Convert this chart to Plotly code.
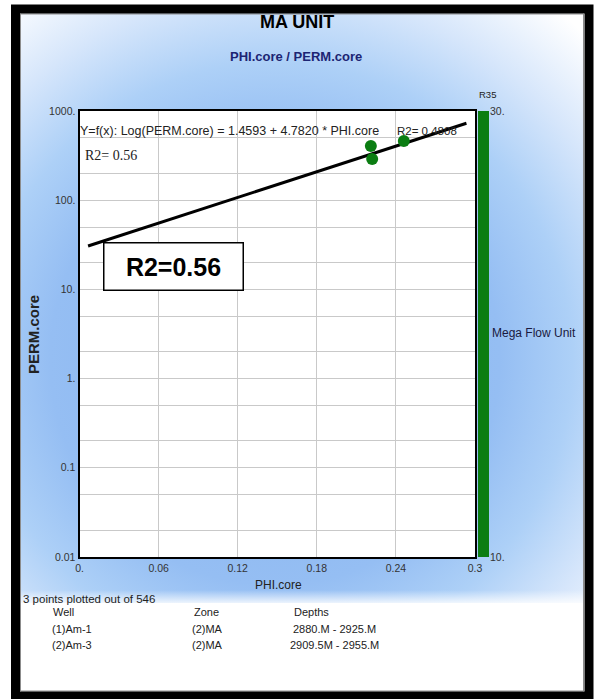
import base64
import plotly.graph_objects as go

W, H = 594, 699

# core points (PHI.core vs PERM.core)
phi_core = [0.221, 0.222, 0.246]
perm_core = [405, 290, 460]

# regression line ends
fit_phi = [0.0065, 0.2935]
fit_perm = [30.7, 729]

y_tickvals = [0.01, 0.02, 0.05, 0.1, 0.2, 0.5, 1, 2, 5, 10, 20, 50, 100, 200, 500, 1000]
y_ticktext = ["0.01", "", "", "0.1", "", "", "1.", "", "", "10.", "", "", "100.", "", "", "1000."]
x_tickvals = [0, 0.06, 0.12, 0.18, 0.24, 0.3]
x_ticktext = ["0.", "0.06", "0.12", "0.18", "0.24", "0.3"]

# R35 flow unit track
unit_names = ["Mega Flow Unit"]
unit_base = [10]
unit_top = [30]
r35_tickvals = [10, 30]
r35_ticktext = ["10.", "30."]

# well table under the chart
wells = ["(1)Am-1", "(2)Am-3"]
zones = ["(2)MA", "(2)MA"]
depths = ["2880.M - 2925.M", "2909.5M - 2955.M"]


def px(x):
    return x / W


def py(y):
    return 1 - y / H


FONT = "Liberation Sans, Arial, sans-serif"

# blue glow behind the chart, white under the well table
svg = """<svg xmlns="http://www.w3.org/2000/svg" width="594" height="699" viewBox="0 0 594 699" preserveAspectRatio="none">
<defs>
<radialGradient id="g" gradientUnits="userSpaceOnUse" cx="275" cy="360" r="450">
<stop offset="0" stop-color="#86b3f0"/>
<stop offset="0.5" stop-color="#95bef3"/>
<stop offset="0.66" stop-color="#add0f7"/>
<stop offset="0.82" stop-color="#d6e6fb"/>
<stop offset="1" stop-color="#ffffff"/>
</radialGradient>
<linearGradient id="f" x1="0" y1="0" x2="0" y2="1">
<stop offset="0" stop-color="#ffffff" stop-opacity="0"/>
<stop offset="1" stop-color="#ffffff" stop-opacity="1"/>
</linearGradient>
</defs>
<rect x="0" y="0" width="594" height="699" fill="#ffffff"/>
<rect x="20" y="13" width="564" height="590" fill="url(#g)"/>
<rect x="20" y="590" width="564" height="16" fill="url(#f)"/>
<rect x="20" y="606" width="564" height="86" fill="#ffffff"/>
</svg>"""
bg_uri = "data:image/svg+xml;base64," + base64.b64encode(svg.encode()).decode()

fig = go.Figure()

fig.add_trace(go.Scatter(
    x=fit_phi, y=fit_perm, mode="lines",
    line=dict(color="black", width=3), hoverinfo="skip",
))
fig.add_trace(go.Scatter(
    x=phi_core, y=perm_core, mode="markers",
    marker=dict(color="#0b7d12", size=12),
))
fig.add_trace(go.Bar(
    x=[0.5] * len(unit_names),
    y=[t - b for t, b in zip(unit_top, unit_base)],
    base=unit_base, width=1, text=unit_names, textposition="none",
    marker=dict(color="#0b7d12", line=dict(width=0)),
    xaxis="x2", yaxis="y2",
))

axis_font = dict(family=FONT, size=10.5, color="#333333")

fig.update_layout(
    width=W, height=H,
    margin=dict(l=0, r=0, t=0, b=0, autoexpand=False),
    paper_bgcolor="white",
    plot_bgcolor="white",
    showlegend=False,
    xaxis=dict(
        domain=[px(79.5), px(475)], range=[0, 0.3], automargin=False,
        tickvals=x_tickvals, ticktext=x_ticktext, tickfont=axis_font,
        showgrid=True, gridcolor="#c9c9c9", gridwidth=1, zeroline=False,
        showline=True, mirror=True, linecolor="black", linewidth=2, ticks="",
    ),
    yaxis=dict(
        type="log", domain=[py(557), py(111)], range=[-2, 3], automargin=False,
        tickvals=y_tickvals, ticktext=y_ticktext, tickfont=axis_font,
        showgrid=True, gridcolor="#c9c9c9", gridwidth=1, zeroline=False,
        showline=True, mirror=True, linecolor="black", linewidth=2, ticks="",
    ),
    xaxis2=dict(domain=[px(478), px(489)], range=[0, 1], visible=False,
                anchor="y2", automargin=False),
    yaxis2=dict(
        domain=[py(557), py(111)], range=[10, 30], anchor="x2", side="right",
        automargin=False,
        tickvals=r35_tickvals, ticktext=r35_ticktext, tickfont=axis_font,
        showgrid=False, zeroline=False, showline=False, ticks="",
    ),
    images=[dict(
        source=bg_uri, xref="paper", yref="paper", x=0, y=1, sizex=1, sizey=1,
        xanchor="left", yanchor="top", sizing="stretch", layer="below",
    )],
    shapes=[
        dict(type="rect", xref="x domain", yref="y domain", x0=0, x1=1, y0=0, y1=1,
             fillcolor="white", line=dict(width=0), layer="below"),
        dict(type="rect", xref="paper", yref="paper",
             x0=px(20.5), x1=px(583.5), y0=py(691), y1=py(14),
             line=dict(color="#8c8c8c", width=1)),
        dict(type="rect", xref="paper", yref="paper",
             x0=px(15.5), x1=px(589), y0=py(696), y1=py(9),
             line=dict(color="black", width=9)),
    ],
)


def note(text, x, y, size=10, color="#222222", anchor="left", family=FONT, **kw):
    fig.add_annotation(
        text=text, x=px(x), y=py(y), xref="paper", yref="paper",
        xanchor=anchor, yanchor="middle", showarrow=False,
        font=dict(family=family, size=size, color=color), **kw,
    )


note("<b>MA UNIT</b>", 297, 22, size=18, color="black", anchor="center")
note("<b>PHI.core / PERM.core</b>", 296, 57, size=13, color="#1c2573", anchor="center")
note("R35", 477, 95, size=9.5)
note(unit_names[0], 490, 333, size=12, color="#1a1a40")
note("Y=f(x): Log(PERM.core) = 1.4593 + 4.7820 * PHI.core", 78, 131, size=12.5)
note("R2= 0.4808", 395, 131, size=11.5)
note("R2= 0.56", 83, 155, size=14, family="Liberation Serif, Times New Roman, serif")
note("<b>R2=0.56</b>", 173, 267, size=25, color="black", anchor="center",
     bgcolor="white", bordercolor="black", borderwidth=1.5, width=136, height=44)
note("<b>PERM.core</b>", 33, 335, size=15, color="#222222", anchor="center", textangle=-90)
note("PHI.core", 278, 585, size=12, anchor="center")

note("3 points plotted out of 546", 21, 599, size=11.5)
note("Well", 51, 612, size=11)
note("Zone", 192, 612, size=11)
note("Depths", 292, 612, size=11)
for i, (w, z, d) in enumerate(zip(wells, zones, depths)):
    yy = 629 + 16 * i
    note(w, 50, yy, size=11)
    note(z, 190, yy, size=11)
    note(d, 288 if i else 291, yy, size=11)

fig.write_html(
    "out.html",
    config={"displayModeBar": False},
    post_script="document.body.style.margin='0';document.body.style.overflow='hidden';",
)
